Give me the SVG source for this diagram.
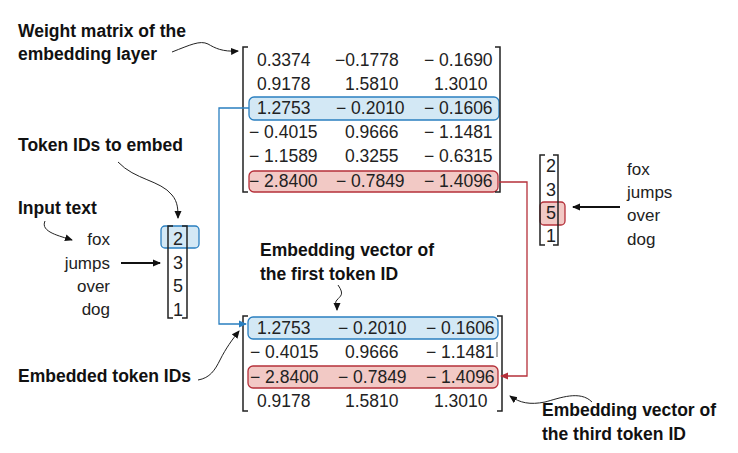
<svg xmlns="http://www.w3.org/2000/svg" width="738" height="453" viewBox="0 0 738 453">
<style>
.lbl{font-family:"Liberation Sans",Arial,sans-serif;font-weight:bold;font-size:17.5px;fill:#111}
.n{font-family:"Liberation Sans",Arial,sans-serif;font-size:17.5px;fill:#222}
.w{font-family:"Liberation Sans",Arial,sans-serif;font-size:17px;fill:#222}
.br{fill:none;stroke:#222;stroke-width:1.5}
.bl{fill:#d3e8f5;stroke:#2a7fc0;stroke-width:1.3}
.rd{fill:#f2c9c5;stroke:#b5303a;stroke-width:1.3}
.cv{fill:none;stroke:#222;stroke-width:1}
</style>
<defs>
<marker id="ak" markerWidth="8" markerHeight="8" refX="7" refY="4" orient="auto" markerUnits="userSpaceOnUse"><path d="M0,0.5 L8,4 L0,7.5z" fill="#111"/></marker>
<marker id="ab" markerWidth="8" markerHeight="8" refX="7" refY="4" orient="auto" markerUnits="userSpaceOnUse"><path d="M0,0.5 L8,4 L0,7.5z" fill="#2a7fc0"/></marker>
<marker id="ar" markerWidth="8" markerHeight="8" refX="7" refY="4" orient="auto" markerUnits="userSpaceOnUse"><path d="M0,0.5 L8,4 L0,7.5z" fill="#b5303a"/></marker>
</defs>

<g id="labels">
<text class="lbl" x="18" y="37">Weight matrix of the</text>
<text class="lbl" x="18" y="60">embedding layer</text>
<text class="lbl" x="18" y="151">Token IDs to embed</text>
<text class="lbl" x="18" y="214">Input text</text>
<text class="lbl" x="18" y="382">Embedded token IDs</text>
<text class="lbl" x="260" y="256">Embedding vector of</text>
<text class="lbl" x="260" y="280">the first token ID</text>
<text class="lbl" x="542" y="416">Embedding vector of</text>
<text class="lbl" x="542" y="440">the third token ID</text>
</g>

<g id="weight-matrix">
<rect class="bl" x="249" y="97" width="250" height="23" rx="5"/>
<rect class="rd" x="249" y="171" width="249" height="21" rx="5"/>
<path class="br" d="M248,47 H243 V192 H248 M495,47 H500 V192 H495"/>
<g class="n">
<text x="257" y="66">0.3374</text><text x="335" y="66">−0.1778</text><text x="424" y="66">− 0.1690</text>
<text x="257" y="90">0.9178</text><text x="345" y="90">1.5810</text><text x="434" y="90">1.3010</text>
<text x="257" y="114">1.2753</text><text x="336" y="114">− 0.2010</text><text x="424" y="114">− 0.1606</text>
<text x="249" y="138">− 0.4015</text><text x="345" y="138">0.9666</text><text x="424" y="138">− 1.1481</text>
<text x="249" y="162">− 1.1589</text><text x="345" y="162">0.3255</text><text x="424" y="162">− 0.6315</text>
<text x="249" y="187">− 2.8400</text><text x="336" y="187">− 0.7849</text><text x="424" y="187">− 1.4096</text>
</g>
</g>

<g id="input-ids">
<rect class="bl" x="161" y="226" width="38" height="22" rx="4"/>
<path class="br" d="M173,226 H168 V318 H173 M182,226 H187 V318 H182"/>
<g class="n" text-anchor="middle"><text x="178" y="245" style="font-size:18px">2</text><text x="178" y="269" style="font-size:18px">3</text><text x="178" y="292" style="font-size:18px">5</text><text x="178" y="316" style="font-size:18px">1</text></g>
<g class="w" text-anchor="end"><text x="110" y="245">fox</text><text x="110" y="269">jumps</text><text x="110" y="292">over</text><text x="110" y="315">dog</text></g>
</g>

<g id="right-ids">
<rect class="rd" x="540" y="202" width="25" height="23" rx="4"/>
<path class="br" d="M545,155 H540 V245 H545 M553,155 H558 V245 H553"/>
<g class="n" text-anchor="middle"><text x="551" y="172" style="font-size:18px">2</text><text x="551" y="196" style="font-size:18px">3</text><text x="551" y="219" style="font-size:18px">5</text><text x="551" y="242" style="font-size:18px">1</text></g>
<g class="w"><text x="627" y="175">fox</text><text x="627" y="198">jumps</text><text x="627" y="221">over</text><text x="627" y="245">dog</text></g>
</g>

<g id="output-matrix">
<rect class="bl" x="248" y="317" width="250" height="22" rx="5"/>
<rect class="rd" x="248" y="366" width="250" height="22" rx="5"/>
<path class="br" d="M248,316 H243 V411 H248 M497,316 H502 V411 H497"/>
<g class="n">
<text x="257" y="334">1.2753</text><text x="338" y="334">− 0.2010</text><text x="426" y="334">− 0.1606</text>
<text x="250" y="358">− 0.4015</text><text x="345" y="358">0.9666</text><text x="426" y="358">− 1.1481</text>
<text x="250" y="383">− 2.8400</text><text x="338" y="383">− 0.7849</text><text x="426" y="383">− 1.4096</text>
<text x="257" y="407">0.9178</text><text x="345" y="407">1.5810</text><text x="434" y="407">1.3010</text>
</g>
<path d="M497,342 V357" stroke="#222" stroke-width="0.8"/>
</g>

<g id="connectors">
<path d="M249,108 H219 V324 H246" fill="none" stroke="#2a7fc0" stroke-width="1.3" marker-end="url(#ab)"/>
<path d="M499,182 H527 V376 H501" fill="none" stroke="#b5303a" stroke-width="1.3" marker-end="url(#ar)"/>
<path d="M121,263 H160" stroke="#111" stroke-width="2" marker-end="url(#ak)"/>
<path d="M620,207 H573" stroke="#111" stroke-width="2" marker-end="url(#ak)"/>
<path class="cv" d="M172,52 C190,45 200,40 208,44 C215,48 222,52 238,51" marker-end="url(#ak)"/>
<path class="cv" d="M118,162 C135,180 160,180 172,195 C178,202 178,210 178,218" marker-end="url(#ak)"/>
<path class="cv" d="M45,221 C40,232 60,236 72,240" marker-end="url(#ak)"/>
<path class="cv" d="M198,380 C210,378 215,370 220,360 C226,348 232,340 239,331" marker-end="url(#ak)"/>
<path class="cv" d="M338,285 C345,295 340,296 337,300 C334,303 337,305 337,310" marker-end="url(#ak)"/>
<path class="cv" d="M592,402 C580,390 560,398 545,402 C530,405 520,403 510,396" marker-end="url(#ak)"/>
</g>
</svg>
